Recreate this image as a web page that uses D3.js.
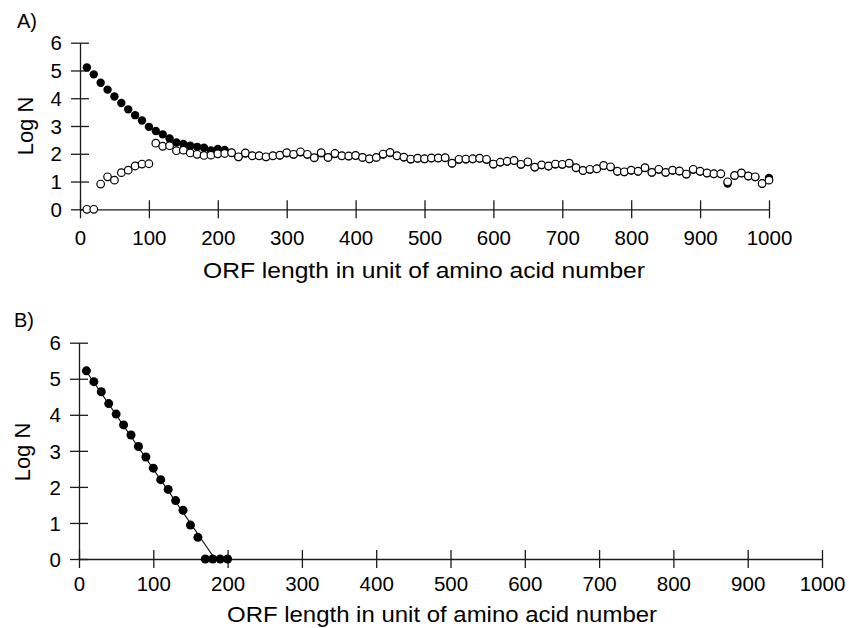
<!DOCTYPE html>
<html>
<head>
<meta charset="utf-8">
<script src="https://cdn.jsdelivr.net/npm/d3@7"></script>
<style>
  body { margin: 0; background: #fff; }
  svg, svg text { font-family: "Liberation Sans", Arial, Helvetica, sans-serif; }
</style>
</head>
<body>
<div id="chart"></div>
<script>
// ORF lengths (amino acids), step 10
const orfA = d3.range(10, 1001, 10);
const orfB = d3.range(10, 201, 10);

// panel A, filled circles
const filledA = [
  5.11, 4.86, 4.56, 4.31, 4.06, 3.83, 3.60, 3.39, 3.20, 2.97,
  2.82, 2.70, 2.55, 2.41, 2.35, 2.29, 2.25, 2.22, 2.12, 2.17,
  2.14, 2.03, 1.88, 2.01, 1.92, 1.92, 1.88, 1.92, 1.94, 2.02,
  1.97, 2.05, 1.97, 1.85, 2.02, 1.86, 1.99, 1.92, 1.91, 1.93,
  1.86, 1.81, 1.86, 1.97, 2.03, 1.92, 1.87, 1.80, 1.83, 1.81,
  1.84, 1.84, 1.85, 1.65, 1.79, 1.80, 1.81, 1.83, 1.79, 1.62,
  1.69, 1.72, 1.75, 1.61, 1.70, 1.51, 1.59, 1.55, 1.62, 1.61,
  1.65, 1.49, 1.39, 1.43, 1.45, 1.57, 1.52, 1.36, 1.34, 1.40,
  1.36, 1.49, 1.32, 1.43, 1.32, 1.40, 1.37, 1.26, 1.43, 1.36,
  1.30, 1.27, 1.27, 0.93, 1.21, 1.30, 1.19, 1.16, 0.92, 1.13
];

// panel A, open circles
const openA = [
  0.00, 0.00, 0.91, 1.17, 1.05, 1.32, 1.41, 1.56, 1.63, 1.64,
  2.38, 2.27, 2.29, 2.11, 2.13, 2.03, 1.98, 1.94, 1.95, 2.00,
  2.01, 2.04, 1.89, 2.03, 1.93, 1.93, 1.89, 1.93, 1.95, 2.04,
  1.98, 2.07, 1.98, 1.86, 2.04, 1.87, 2.01, 1.93, 1.92, 1.94,
  1.87, 1.82, 1.87, 1.99, 2.05, 1.93, 1.88, 1.81, 1.84, 1.82,
  1.85, 1.85, 1.86, 1.66, 1.80, 1.81, 1.82, 1.84, 1.80, 1.63,
  1.70, 1.73, 1.76, 1.62, 1.71, 1.52, 1.60, 1.56, 1.63, 1.62,
  1.66, 1.50, 1.40, 1.44, 1.46, 1.58, 1.53, 1.37, 1.35, 1.41,
  1.37, 1.50, 1.33, 1.44, 1.33, 1.41, 1.38, 1.27, 1.44, 1.37,
  1.31, 1.28, 1.28, 0.99, 1.22, 1.31, 1.20, 1.17, 0.93, 1.05
];

// panel B, filled circles
const filledB = [
  5.22, 4.92, 4.64, 4.31, 4.02, 3.72, 3.44, 3.12, 2.83, 2.52,
  2.20, 1.93, 1.62, 1.35, 0.94, 0.60, 0.00, 0.00, 0.00, 0.00
];

// panel B, fitted line end points
const fitX = [10, 183];
const fitY = [5.2, 0];

const xTicks = [0, 100, 200, 300, 400, 500, 600, 700, 800, 900, 1000];
const yTicks = [0, 1, 2, 3, 4, 5, 6];

const width = 849;
const height = 628;

const svg = d3.select("#chart")
  .append("svg")
  .attr("width", width)
  .attr("height", height);

const ink = "#1a1a1a";
const fontFam = "'Liberation Sans', Arial, Helvetica, sans-serif";

function drawPanel(opt) {
  const x = d3.scaleLinear().domain([0, 1000]).range([opt.left, opt.right]);
  const y = d3.scaleLinear().domain([0, 6]).range([opt.bottom, opt.top]);

  const g = svg.append("g");

  // X AXIS (ticks cross the line)
  const xa = g.append("g")
    .attr("transform", `translate(0,${opt.bottom})`)
    .call(d3.axisBottom(x).tickValues(xTicks).tickSizeOuter(0).tickFormat(d3.format("d")));
  xa.selectAll(".tick line").attr("y1", -9).attr("y2", 9);
  xa.selectAll("text")
    .attr("y", opt.xLabelY)
    .attr("dy", null);

  // Y AXIS
  const ya = g.append("g")
    .attr("transform", `translate(${opt.left},0)`)
    .call(d3.axisLeft(y).tickValues(yTicks).tickSizeOuter(0).tickFormat(d3.format("d")));
  ya.selectAll(".tick line").attr("x1", -9).attr("x2", 9);
  ya.selectAll("text")
    .attr("x", -18)
    .attr("dy", "0.35em");

  g.selectAll(".domain").attr("stroke", ink).attr("stroke-width", 1.3);
  g.selectAll(".tick line").attr("stroke", ink).attr("stroke-width", 1.3);
  g.selectAll(".tick text")
    .attr("fill", "#000")
    .attr("font-family", fontFam)
    .attr("font-size", opt.tickFont);

  // FIT LINE
  if (opt.fit) {
    g.append("path")
      .datum(d3.zip(opt.fit[0], opt.fit[1]))
      .attr("fill", "none")
      .attr("stroke", "#000")
      .attr("stroke-width", 1.1)
      .attr("d", d3.line().x(d => x(d[0])).y(d => y(d[1])));
  }

  // FILLED
  g.append("g").selectAll("circle")
    .data(d3.zip(opt.xs, opt.filled))
    .enter()
    .append("circle")
    .attr("cx", d => x(d[0]))
    .attr("cy", d => y(d[1]))
    .attr("r", opt.r)
    .attr("fill", "#000");

  // OPEN
  if (opt.open) {
    g.append("g").selectAll("circle")
      .data(d3.zip(opt.xs, opt.open))
      .enter()
      .append("circle")
      .attr("cx", d => x(d[0]))
      .attr("cy", d => y(d[1]))
      .attr("r", 3.8)
      .attr("fill", "#fff")
      .attr("stroke", "#000")
      .attr("stroke-width", 1.2);
  }

  // PANEL LETTER
  g.append("text")
    .attr("x", opt.letterX)
    .attr("y", opt.letterY)
    .style("font-size", "20px")
    .text(opt.letter);

  // Y TITLE
  g.append("text")
    .attr("transform", `translate(${opt.yTitleX},${opt.yTitleY}) rotate(-90)`)
    .attr("text-anchor", "middle")
    .style("font-size", "22px")
    .text("Log N");

  // X TITLE
  g.append("text")
    .attr("x", opt.xTitleX)
    .attr("y", opt.xTitleY)
    .attr("text-anchor", "middle")
    .attr("textLength", opt.xTitleW)
    .attr("lengthAdjust", "spacingAndGlyphs")
    .style("font-size", "22px")
    .text("ORF length in unit of amino acid number");
}

drawPanel({
  left: 80, right: 769, top: 42.7, bottom: 209.3,
  xs: orfA, filled: filledA, open: openA, r: 4.2,
  tickFont: 20.5, xLabelY: 36,
  letter: "A)", letterX: 17, letterY: 28,
  yTitleX: 33, yTitleY: 126,
  xTitleX: 424, xTitleY: 278, xTitleW: 442
});

drawPanel({
  left: 79, right: 822, top: 342.7, bottom: 559,
  xs: orfB, filled: filledB, r: 4.5, fit: [fitX, fitY],
  tickFont: 20.5, xLabelY: 32,
  letter: "B)", letterX: 14, letterY: 327,
  yTitleX: 30, yTitleY: 452,
  xTitleX: 442, xTitleY: 622, xTitleW: 430
});
</script>
</body>
</html>
